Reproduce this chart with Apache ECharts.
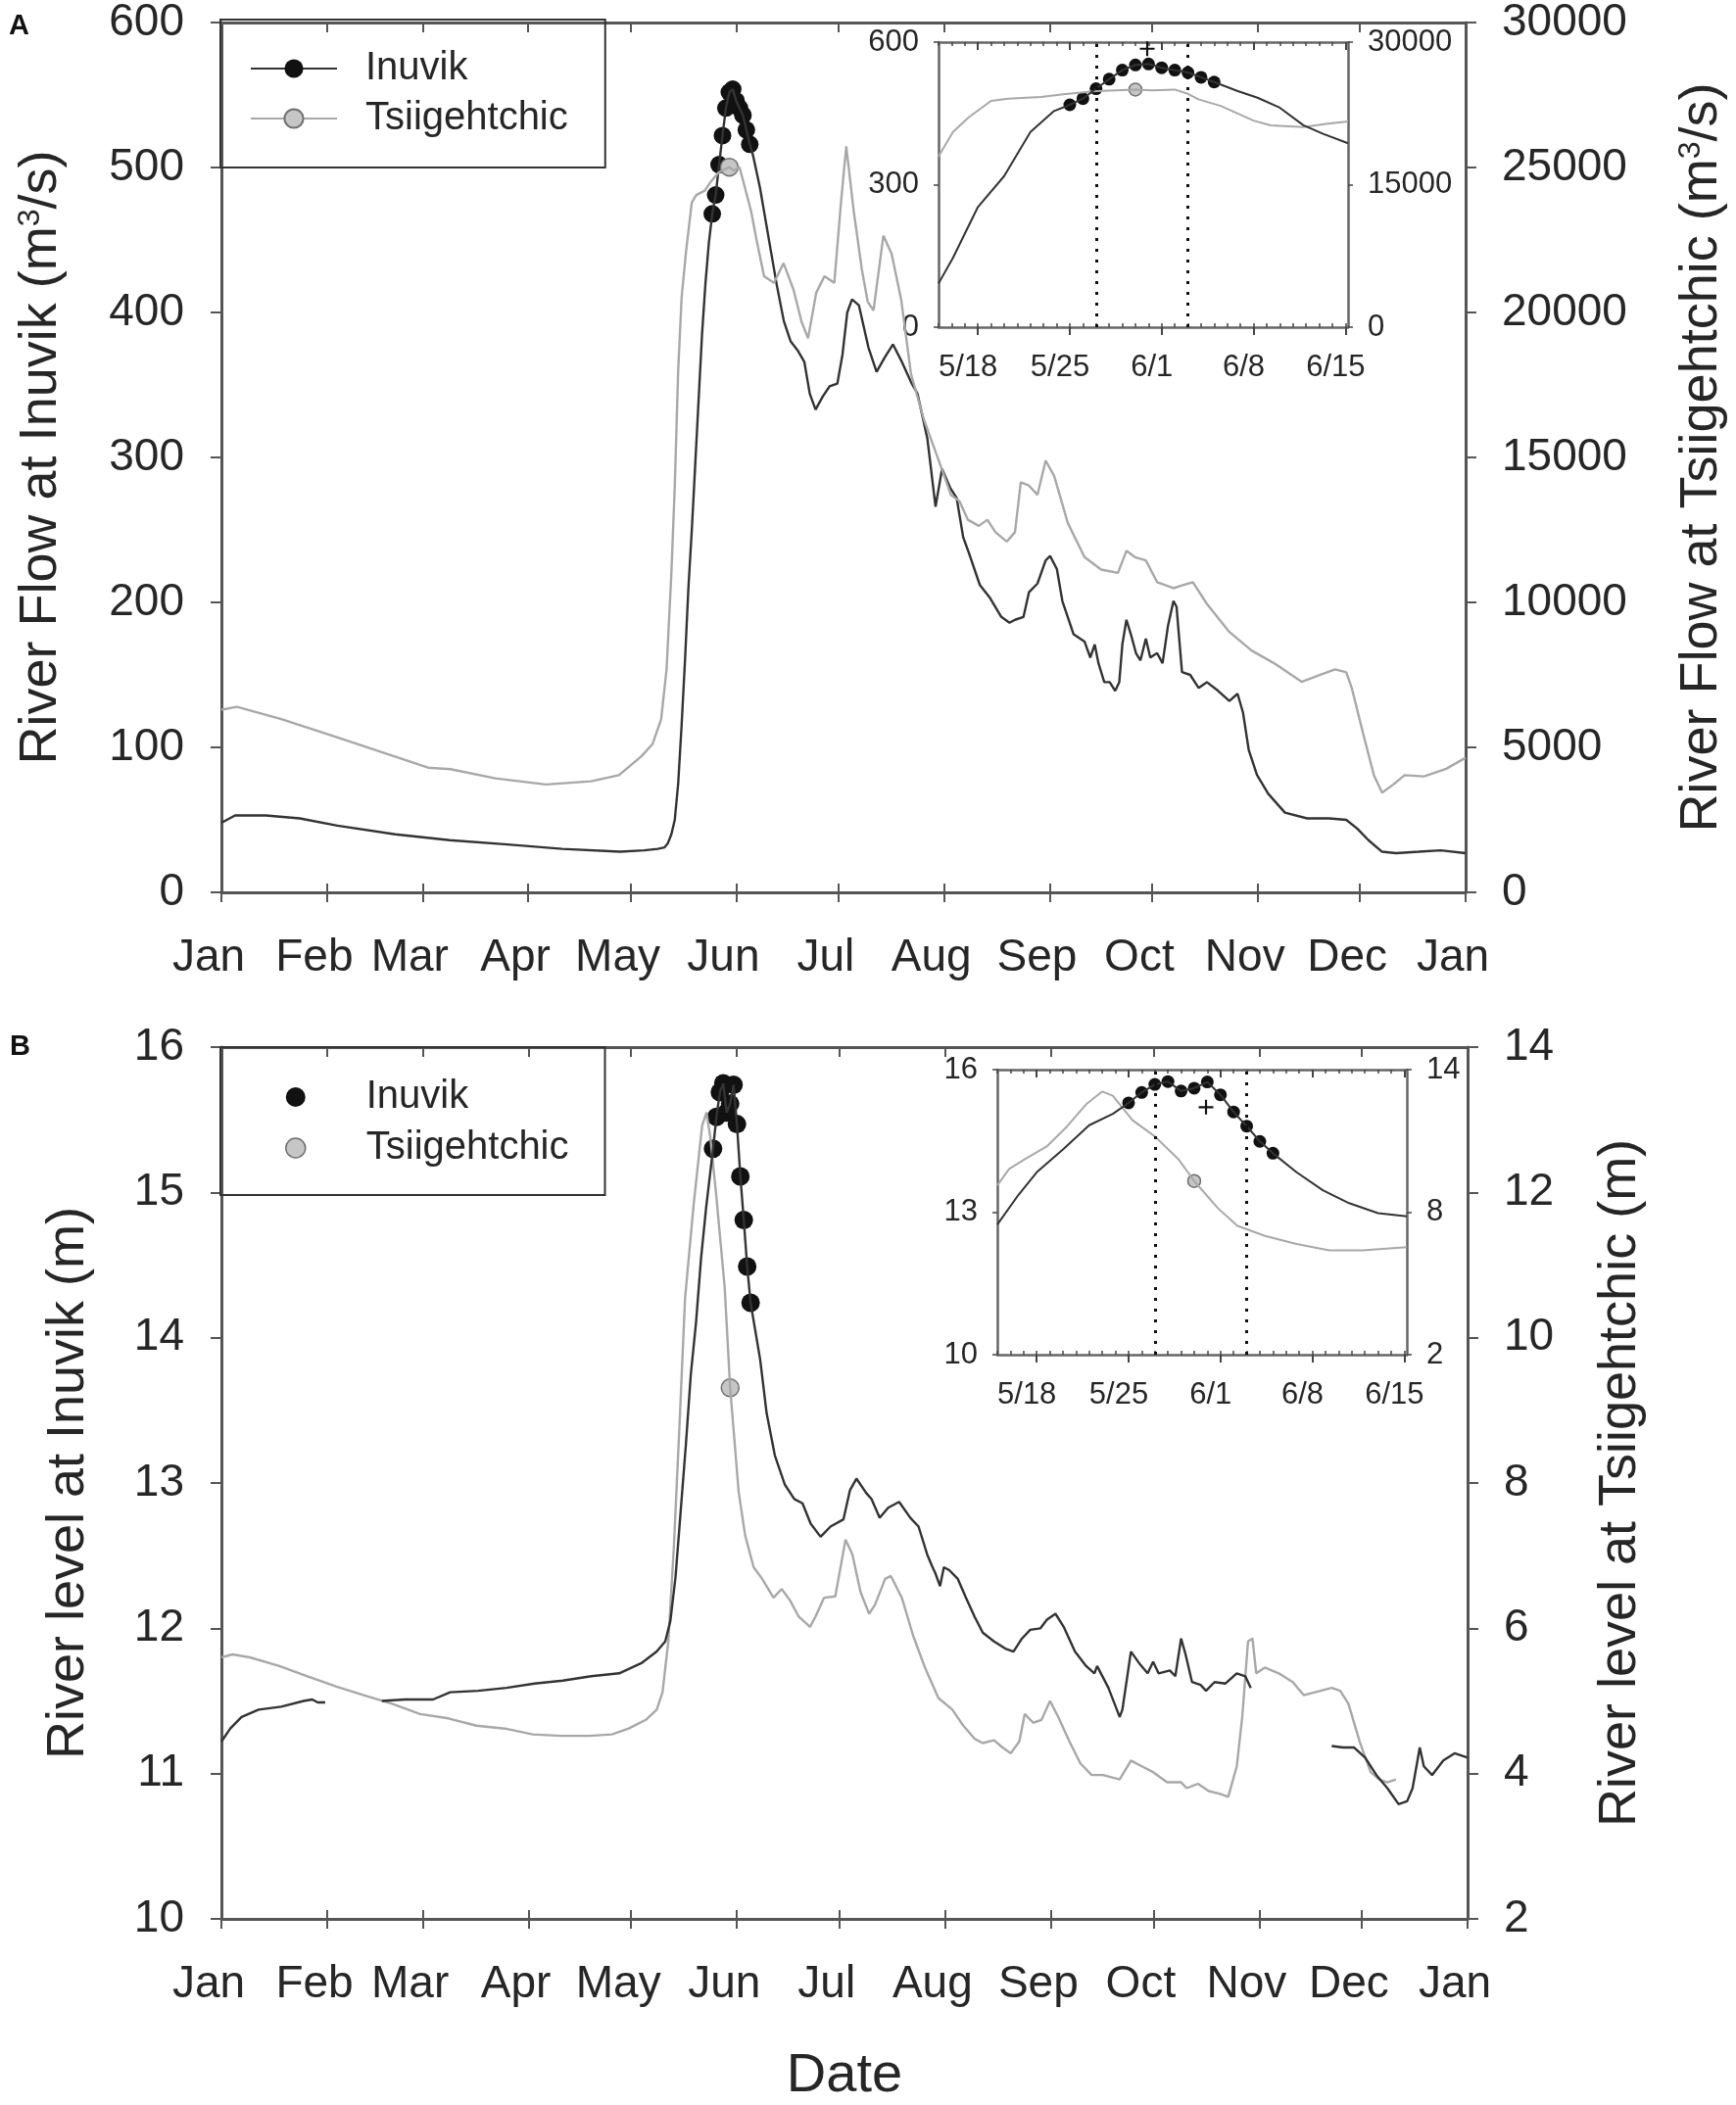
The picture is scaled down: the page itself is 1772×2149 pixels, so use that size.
<!DOCTYPE html>
<html>
<head>
<meta charset="utf-8">
<script src="https://cdn.jsdelivr.net/npm/echarts@6.0.0/dist/echarts.min.js"></script>
<style>
html,body{margin:0;padding:0;background:#fff;}
#chart{width:1772px;height:2149px;}
</style>
</head>
<body>
<div id="chart"></div>
<script>
// ---------- axis ticks / labels ----------
const monthStarts = [0,31,59,90,120,151,181,212,243,273,304,334,365];
const monthLabels = ['Jan','Feb','Mar','Apr','May','Jun','Jul','Aug','Sep','Oct','Nov','Dec','Jan'];
const insetStart = 134, insetEnd = 165.2;
const insetLabelDays = [137,144,151,158,165];
const insetLabels = ['5/18','5/25','6/1','6/8','6/15'];
const dottedDays = [146,153];
const insetLevelTicks = [10,13,16];
const insetLevelTicksTsiig = [2,8,14];

// ---------- peak-period daily points (day of year, Jan 1 = 0) ----------
const peakDays = [144,145,146,147,148,149,150,151,152,153,154,155];
const flowInuvikPeak = [468,481,502,522,541,552,554,546,541,536,526,516];
const levelInuvikPeak = [15.30,15.52,15.69,15.75,15.55,15.61,15.74,15.47,15.11,14.81,14.49,14.24];
const tsiigPeakDay = 149;
const flowTsiigPeak = 25010;
const levelTsiigPeak = 9.31;
const plusDay = 149.9;
const flowPlus = 586;
const levelPlus = 15.21;

// ---------- Panel A : river flow ----------
const flowInuvikRise = [[0,48],[4,53],[13,53],[23,51],[34,46],[51,40],[67,36],[84,33],[100,30],[117,28],[124,29],[128,30],[130,31],[131,34],[132,40],[133,50],[134,75],[135,115],[136,160],[137,210],[138,250],[139,295],[140,340],[141,385],[142,420],[143,448]];
const flowInuvikFall = [[156,508],[158,486],[161,445],[163,418],[165,394],[167,380],[169,374],[171,366],[172.6,344],[174.3,333],[176.4,342],[178.4,349],[180.7,351],[182.2,371],[183.6,400],[185,409],[187,405],[189.8,376],[192.2,359],[194.6,369],[197,378],[199.4,367],[202.3,352],[204.2,344],[207.1,313],[209.5,266],[211.4,292],[213.8,279],[215.7,272],[217.6,245],[219,236],[222.5,212],[225.5,203],[228.8,190],[231.2,186],[232.8,188],[235.3,190],[236.9,207],[239.4,213],[241.8,229],[243.1,232],[245.1,223],[246.7,201],[250,178],[253.2,173],[254.9,162],[256.2,171],[257.3,158],[259,145],[260.6,145],[262.2,139],[263.4,145],[264.3,171],[265.5,188],[266.8,178],[268.3,165],[269.6,160],[271.2,175],[272.5,162],[274.5,165],[276.1,158],[277.7,184],[279.3,201],[280.2,197],[281.8,152],[284.2,150],[286.7,141],[289.1,145],[292.4,139],[295.7,132],[298.1,137],[299.7,124],[301.4,98],[303.8,81],[307.1,68],[312,55],[318.5,51],[325,51],[330,50],[333.2,44],[336.5,36],[340.5,28],[344.6,27],[351.2,28],[357.7,29],[365,27]];
const flowTsiig = [[0,6300],[4.6,6400],[17.8,5970],[34.3,5330],[50.7,4690],[60.6,4300],[67.2,4250],[80.4,3930],[95.2,3720],[108.4,3830],[116.6,4040],[123.2,4690],[126.5,5120],[129,5970],[130.6,7700],[132,11000],[133,14000],[134,18000],[135,20500],[136.3,22100],[138,23800],[139.3,24050],[141.8,24200],[143.5,24500],[146,24840],[149,25010],[150.3,24900],[152,25010],[153,24560],[155.4,23490],[157,22500],[159.2,21250],[162.1,21020],[164.9,21700],[167.8,20800],[170.2,19680],[172.1,19110],[174.5,20680],[176.9,21250],[179.8,21020],[181.7,23710],[183.3,25730],[185.5,23490],[187.9,21470],[189.6,20370],[191.3,20070],[194.2,22650],[196.6,22030],[199.4,20460],[202.3,17880],[206.1,16300],[210.9,14740],[214,13710],[216.5,13500],[219,12850],[222.2,12640],[224.7,12850],[227.1,12420],[230.4,12100],[232.8,12420],[234.5,14140],[236.9,14030],[239.4,13710],[241.8,14890],[244.3,14360],[248.3,12740],[253.2,11560],[258.1,11130],[263,11020],[265.5,11780],[268,11560],[271.2,11450],[274.5,10700],[279.3,10490],[281.8,10590],[285,10700],[289.1,9950],[295.7,8980],[302.2,8340],[308.7,7910],[316.9,7260],[321.8,7480],[326.7,7690],[330,7590],[331.6,7050],[334.8,5540],[338.1,4040],[340.5,3440],[343.8,3720],[347.1,4040],[352.8,4000],[359.3,4260],[365,4640]];
// inset A
const insetFlowInuvikRise = [[134,92],[135.1,146],[137,253],[139,318],[141,411],[142.8,455]];
const insetFlowInuvikFall = [[156.8,497],[158.3,483],[160,462],[161.8,425],[163.3,407],[165.2,387]];
const insetFlowTsiig = [[134,17960],[135.1,20540],[136.3,22090],[138,23810],[139.3,24050],[141.8,24220],[143.5,24500],[146,24840],[149,25010],[150.3,24910],[152,25010],[153,24560],[153.8,23980],[155.5,23290],[158,21740],[159.3,21230],[161.8,21060],[163.5,21400],[165.2,21640]];

// ---------- Panel B : river level ----------
const levelInuvikWinter = [[0,11.22],[2.6,11.31],[5.9,11.39],[10.9,11.44],[17.5,11.46],[24.1,11.5],[26.6,11.51],[28.2,11.49],[30.4,11.49]];
const levelInuvikRise = [[47,11.5],[53.8,11.51],[62,11.51],[67,11.56],[75.2,11.57],[83.5,11.59],[91.7,11.62],[100,11.64],[108.3,11.67],[116.5,11.69],[123,11.76],[127.5,11.84],[130,11.91],[131.5,12.05],[133,12.35],[134.5,12.8],[136,13.25],[137.5,13.75],[139,14.1],[140.5,14.55],[142,14.9],[143,15.1]];
const levelInuvikFall = [[157.8,13.85],[159.7,13.48],[162.1,13.19],[165,12.99],[167.8,12.89],[170.2,12.86],[172.6,12.72],[175.5,12.63],[178.4,12.70],[182.2,12.75],[184.1,12.95],[186,13.03],[188.9,12.93],[190.4,12.89],[192.8,12.76],[195.3,12.83],[198.5,12.87],[201.8,12.76],[204.2,12.70],[206.7,12.51],[208.1,12.43],[209.1,12.38],[210.5,12.29],[211.6,12.42],[213.2,12.40],[215.7,12.34],[218.1,12.21],[220.6,12.08],[223,11.97],[226.3,11.91],[229.6,11.86],[232,11.84],[234.5,11.93],[236.9,11.99],[239.9,12.0],[241.8,12.06],[244.3,12.1],[246.7,12.01],[250,11.84],[253.3,11.74],[255.7,11.69],[256.5,11.74],[259.8,11.59],[263.1,11.39],[263.9,11.44],[266.4,11.84],[268.8,11.76],[271.3,11.69],[272.9,11.77],[274.5,11.69],[277.8,11.71],[279.4,11.67],[281.1,11.93],[282.4,11.82],[284.3,11.63],[286.8,11.61],[288.4,11.57],[290.9,11.63],[294.1,11.62],[297.4,11.69],[299.9,11.67],[301.5,11.59]];
const levelInuvikDec = [[325.2,11.19],[328.5,11.18],[331.7,11.18],[335,11.11],[338.3,10.99],[341.5,10.9],[344.8,10.79],[347.3,10.81],[348.9,10.9],[351,11.18],[352.2,11.05],[354.6,10.99],[357.9,11.09],[361.2,11.14],[365,11.11]];
const levelTsiig = [[0,5.60],[3.3,5.64],[8.3,5.60],[17,5.48],[25.2,5.34],[33.5,5.20],[41.7,5.08],[50,4.96],[58.2,4.82],[66.5,4.76],[74.7,4.66],[83,4.62],[91.2,4.54],[99.5,4.52],[107.8,4.52],[114.4,4.54],[119.3,4.62],[124.3,4.74],[127.5,4.88],[129.2,5.12],[130.9,5.82],[132.5,7.10],[134.2,8.82],[135.8,10.54],[138.3,11.82],[140.8,12.92],[142.1,13.10],[143.2,12.76],[144.9,11.98],[147.4,10.70],[149,9.32],[151.5,7.88],[153.4,7.28],[155.9,6.84],[158.4,6.68],[161.7,6.42],[164.1,6.54],[166.6,6.38],[169.1,6.16],[172.4,6.02],[174,6.16],[176.5,6.42],[179.8,6.44],[182.8,7.22],[184.8,7.02],[187.2,6.50],[189.7,6.20],[191.4,6.32],[194.4,6.68],[196.1,6.72],[199.3,6.42],[202.6,5.90],[205.9,5.48],[210,5.04],[214.1,4.88],[217.3,4.66],[220.6,4.48],[223,4.42],[226.3,4.46],[228.8,4.36],[231.2,4.28],[233.7,4.44],[235.3,4.82],[237.8,4.70],[240.2,4.74],[242.7,5.00],[245.1,4.78],[248.4,4.44],[251.6,4.14],[254.9,3.98],[258.2,3.98],[263.1,3.92],[266.4,4.18],[269.6,4.10],[272.9,4.02],[277,3.88],[281.1,3.88],[282.7,3.80],[286,3.86],[289.2,3.76],[292.5,3.72],[294.9,3.68],[297.4,4.10],[299,4.78],[300.7,5.82],[302,5.86],[303.1,5.38],[305.6,5.46],[309.7,5.38],[313.8,5.26],[317,5.08],[320.3,5.12],[325.2,5.18],[327.7,5.14],[330.1,4.96],[333.4,4.44],[336.6,4.02],[339.1,3.92],[341.5,3.88],[344,3.92]];
// inset B
const insetLevelInuvikRise = [[134,12.74],[135.6,13.36],[137,13.84],[139,14.32],[141,14.83],[142.8,15.07]];
const insetLevelInuvikFall = [[156.8,13.84],[158.8,13.46],[160.8,13.19],[163,12.98],[165.2,12.91]];
const insetLevelTsiig = [[134,9.13],[134.9,9.82],[136.1,10.23],[137.8,10.78],[139.3,11.6],[140.8,12.56],[142,13.08],[142.8,12.9],[143.5,12.42],[144.3,11.87],[146,11.19],[147.8,10.23],[149,9.31],[150.8,8.17],[152.3,7.42],[154.4,7.0],[156.8,6.66],[159.3,6.39],[161.8,6.39],[165.2,6.53]];

// ---------- build ----------
const FONT = '"Liberation Sans", Arial, Helvetica, sans-serif';
const AX = '#555';
const TXT = '#262626';
const INU = '#333';
const TSI = '#a8a8a8';
const DOT = '#111';
const GDOT = '#c6c6c6';
const GDOTB = '#707070';

const peakPts = vals => peakDays.map((d, i) => [d, vals[i]]);
const insetDays = [];
for (let d = insetStart; d <= insetEnd; d++) insetDays.push(d);
const monthFmt = v => monthLabels[monthStarts.indexOf(v)];
const insetFmt = v => insetLabels[insetLabelDays.indexOf(v)];
const plainNum = v => String(v);

function mainX(g, kind, extra) {
  const base = {type:'value', gridIndex:g, min:0, max:365, splitLine:{show:false}};
  if (kind === 'bottom') return Object.assign(base, {
    position:'bottom',
    axisLine:{show:true, onZero:false, lineStyle:{color:AX, width:3}},
    axisTick:{show:true, inside:false, length:10, customValues:monthStarts, lineStyle:{color:AX, width:2}},
    axisLabel:{show:true, customValues:monthStarts, formatter:monthFmt, fontSize:46, color:TXT, margin:44, padding:[0,26,0,0]}
  }, extra || {});
  if (kind === 'bottomIn') return Object.assign(base, {
    position:'bottom', axisLine:{show:false, onZero:false},
    axisTick:{show:true, inside:true, length:9, customValues:monthStarts, lineStyle:{color:AX, width:2}},
    axisLabel:{show:false}
  });
  return Object.assign(base, {
    position:'top', axisLine:{show:true, onZero:false, lineStyle:{color:AX, width:3}},
    axisTick:{show:true, inside:true, length:10, customValues:monthStarts, lineStyle:{color:AX, width:2}},
    axisLabel:{show:false}
  });
}
function insetX(g, kind) {
  const base = {type:'value', gridIndex:g, min:insetStart, max:insetEnd, splitLine:{show:false}};
  if (kind === 'bottom') return Object.assign(base, {
    position:'bottom', axisLine:{show:true, onZero:false, lineStyle:{color:'#666', width:2.5}},
    axisTick:{show:true, inside:true, length:4, customValues:insetDays, lineStyle:{color:'#444', width:1.5}},
    axisLabel:{show:true, customValues:insetLabelDays, formatter:insetFmt, fontSize:31, color:TXT, margin:26, padding:[0,20,0,0]}
  });
  if (kind === 'bottomMajor') return Object.assign(base, {
    position:'bottom', axisLine:{show:false, onZero:false},
    axisTick:{show:true, inside:false, length:8, customValues:insetLabelDays, lineStyle:{color:'#444', width:2}},
    axisLabel:{show:false}
  });
  if (kind === 'top') return Object.assign(base, {
    position:'top', axisLine:{show:true, onZero:false, lineStyle:{color:'#666', width:2.5}},
    axisTick:{show:true, inside:true, length:4, customValues:insetDays, lineStyle:{color:'#444', width:1.5}},
    axisLabel:{show:false}
  });
  return Object.assign(base, {
    position:'top', axisLine:{show:false, onZero:false},
    axisTick:{show:true, inside:true, length:8, customValues:insetLabelDays, lineStyle:{color:'#444', width:2}},
    axisLabel:{show:false}
  });
}
const supRich = {sup:{fontSize:32, color:TXT, verticalAlign:'top', fontFamily:FONT}};
function mainY(g, pos, min, max, interval, name, gap) {
  return {type:'value', gridIndex:g, position:pos, min, max, interval,
    axisLine:{show:true, onZero:false, lineStyle:{color:AX, width:3}},
    axisTick:{show:true, inside:false, length:11, lineStyle:{color:AX, width:2}},
    axisLabel:{fontSize:46, color:TXT, margin: pos === 'left' ? 38 : 37, formatter:plainNum},
    splitLine:{show:false},
    name, nameLocation:'middle', nameRotate:90, nameGap:gap,
    nameTextStyle:{fontSize:54, color:TXT, fontFamily:FONT, rich:supRich}
  };
}
function insetY(g, pos, min, max, ticks) {
  return {type:'value', gridIndex:g, position:pos, min, max,
    axisLine:{show:true, onZero:false, lineStyle:{color:'#666', width:2.5}},
    axisTick:{show:true, inside:false, length:5, customValues:ticks, lineStyle:{color:'#444', width:1.5}},
    axisLabel:{customValues:ticks, fontSize:31, color:TXT, margin:20, formatter:plainNum},
    splitLine:{show:false}
  };
}
const blackDot = {color:DOT, opacity:1, borderWidth:0};
const greyDot = {color:GDOT, borderColor:GDOTB, borderWidth:1.5, opacity:1};

const option = {
  animation:false,
  backgroundColor:'#fff',
  textStyle:{fontFamily:FONT},
  title:[
    {text:'A', left:4, top:7, textStyle:{fontSize:29, fontWeight:'bold', color:'#111', fontFamily:FONT}},
    {text:'B', left:5, top:1049, textStyle:{fontSize:29, fontWeight:'bold', color:'#111', fontFamily:FONT}}
  ],
  legend:[
    {left:225, top:20, orient:'vertical', selectedMode:false, padding:[30,38,30,30], itemGap:11,
     itemWidth:88, itemHeight:24, borderColor:'#333', borderWidth:2, borderRadius:0,
     textStyle:{fontSize:40, color:TXT, lineHeight:40, padding:[0,0,0,24], fontFamily:FONT},
     data:['Inuvik','Tsiigehtchic']},
    {left:225, top:1069, orient:'vertical', selectedMode:false, padding:[31,37,28,66], itemGap:12,
     itemWidth:20, itemHeight:20, borderColor:'#333', borderWidth:2, borderRadius:0,
     textStyle:{fontSize:40, color:TXT, lineHeight:40, padding:[0,0,0,57], fontFamily:FONT},
     data:[{name:'Inuvik', icon:'circle', itemStyle:blackDot},
           {name:'Tsiigehtchic', icon:'circle', itemStyle:greyDot}]}
  ],
  grid:[
    {left:226, top:20, width:1272, height:891},
    {left:226, top:1069, width:1272, height:893},
    {left:958, top:43, width:418, height:291},
    {left:1018, top:1092, width:418, height:291}
  ],
  xAxis:[
    mainX(0,'bottom'), mainX(0,'bottomIn'), mainX(0,'top'),
    mainX(1,'bottom',{name:'Date', nameLocation:'middle', nameGap:133, nameTextStyle:{fontSize:56, color:TXT, fontFamily:FONT}}),
    mainX(1,'bottomIn'), mainX(1,'top'),
    insetX(2,'bottom'), insetX(2,'bottomMajor'), insetX(2,'top'), insetX(2,'topMajor'),
    insetX(3,'bottom'), insetX(3,'bottomMajor'), insetX(3,'top'), insetX(3,'topMajor')
  ],
  yAxis:[
    mainY(0,'left',0,600,100,'River Flow at Inuvik (m{sup|3}/s)',157),
    mainY(0,'right',0,30000,5000,'River Flow at Tsiigehtchic (m{sup|3}/s)',214),
    mainY(1,'left',10,16,1,'River level at Inuvik (m)',129),
    mainY(1,'right',2,14,2,'River level at Tsiigehtchic (m)',129),
    insetY(2,'left',0,600,[0,300,600]),
    insetY(2,'right',0,30000,[0,15000,30000]),
    insetY(3,'left',10,16,insetLevelTicks),
    insetY(3,'right',2,14,insetLevelTicksTsiig)
  ],
  series:[
    // ---- Panel A main ----
    {name:'Inuvik', type:'line', xAxisIndex:0, yAxisIndex:0, showSymbol:false, symbol:'circle',
     lineStyle:{color:INU, width:2.4}, itemStyle:blackDot,
     data:[...flowInuvikRise, ...peakPts(flowInuvikPeak), ...flowInuvikFall]},
    {name:'Tsiigehtchic', type:'line', xAxisIndex:0, yAxisIndex:1, showSymbol:false, symbol:'circle',
     lineStyle:{color:TSI, width:2.4}, itemStyle:greyDot,
     data:flowTsiig},
    {name:'Inuvik', type:'scatter', xAxisIndex:0, yAxisIndex:0, symbolSize:18, itemStyle:blackDot,
     data:peakPts(flowInuvikPeak)},
    {name:'Tsiigehtchic', type:'scatter', xAxisIndex:0, yAxisIndex:1, symbolSize:18,
     itemStyle:greyDot, data:[[tsiigPeakDay, flowTsiigPeak]]},
    // ---- Panel B main ----
    {name:'Tsiigehtchic', type:'line', xAxisIndex:3, yAxisIndex:3, showSymbol:false,
     lineStyle:{color:TSI, width:2.4}, data:levelTsiig},
    {name:'Inuvik', type:'line', xAxisIndex:3, yAxisIndex:2, showSymbol:false,
     lineStyle:{color:INU, width:2.4}, data:levelInuvikWinter},
    {name:'Inuvik', type:'line', xAxisIndex:3, yAxisIndex:2, showSymbol:false,
     lineStyle:{color:INU, width:2.4}, data:[...levelInuvikRise, ...peakPts(levelInuvikPeak), ...levelInuvikFall]},
    {name:'Inuvik', type:'line', xAxisIndex:3, yAxisIndex:2, showSymbol:false,
     lineStyle:{color:INU, width:2.4}, data:levelInuvikDec},
    {name:'Inuvik', type:'scatter', xAxisIndex:3, yAxisIndex:2, symbolSize:19, itemStyle:blackDot,
     data:peakPts(levelInuvikPeak)},
    {name:'Tsiigehtchic', type:'scatter', xAxisIndex:3, yAxisIndex:3, symbolSize:18,
     itemStyle:greyDot, data:[[tsiigPeakDay, levelTsiigPeak]]},
    // ---- Inset A ----
    {name:'Tsiigehtchic', type:'line', xAxisIndex:6, yAxisIndex:5, showSymbol:false,
     lineStyle:{color:TSI, width:2}, data:insetFlowTsiig},
    {name:'Inuvik', type:'line', xAxisIndex:6, yAxisIndex:4, showSymbol:false,
     lineStyle:{color:INU, width:2}, data:[...insetFlowInuvikRise, ...peakPts(flowInuvikPeak), ...insetFlowInuvikFall],
     markLine:{silent:true, symbol:['none','none'], label:{show:false}, animation:false,
       lineStyle:{color:'#111', type:[3,8], width:3}, data:dottedDays.map(d => ({xAxis:d}))}},
    {name:'Inuvik', type:'scatter', xAxisIndex:6, yAxisIndex:4, symbolSize:13, itemStyle:blackDot,
     data:peakPts(flowInuvikPeak)},
    {name:'Tsiigehtchic', type:'scatter', xAxisIndex:6, yAxisIndex:5, symbolSize:13,
     itemStyle:greyDot, data:[[tsiigPeakDay, flowTsiigPeak]]},
    {name:'plusA', type:'scatter', xAxisIndex:6, yAxisIndex:4, symbol:'path://M0,6H14V8H0Z M6,0H8V14H6Z', symbolSize:15,
     itemStyle:{color:'#111', opacity:1}, data:[[plusDay, flowPlus]]},
    // ---- Inset B ----
    {name:'Tsiigehtchic', type:'line', xAxisIndex:10, yAxisIndex:7, showSymbol:false,
     lineStyle:{color:TSI, width:2}, data:insetLevelTsiig},
    {name:'Inuvik', type:'line', xAxisIndex:10, yAxisIndex:6, showSymbol:false,
     lineStyle:{color:INU, width:2}, data:[...insetLevelInuvikRise, ...peakPts(levelInuvikPeak), ...insetLevelInuvikFall],
     markLine:{silent:true, symbol:['none','none'], label:{show:false}, animation:false,
       lineStyle:{color:'#111', type:[3,8], width:3}, data:dottedDays.map(d => ({xAxis:d}))}},
    {name:'Inuvik', type:'scatter', xAxisIndex:10, yAxisIndex:6, symbolSize:13, itemStyle:blackDot,
     data:peakPts(levelInuvikPeak)},
    {name:'Tsiigehtchic', type:'scatter', xAxisIndex:10, yAxisIndex:7, symbolSize:13,
     itemStyle:greyDot, data:[[tsiigPeakDay, levelTsiigPeak]]},
    {name:'plusB', type:'scatter', xAxisIndex:10, yAxisIndex:6, symbol:'path://M0,6H14V8H0Z M6,0H8V14H6Z', symbolSize:15,
     itemStyle:{color:'#111', opacity:1}, data:[[plusDay, levelPlus]]}
  ]
};

const chart = echarts.init(document.getElementById('chart'), null, {renderer:'canvas'});
chart.setOption(option);
</script>
</body>
</html>
